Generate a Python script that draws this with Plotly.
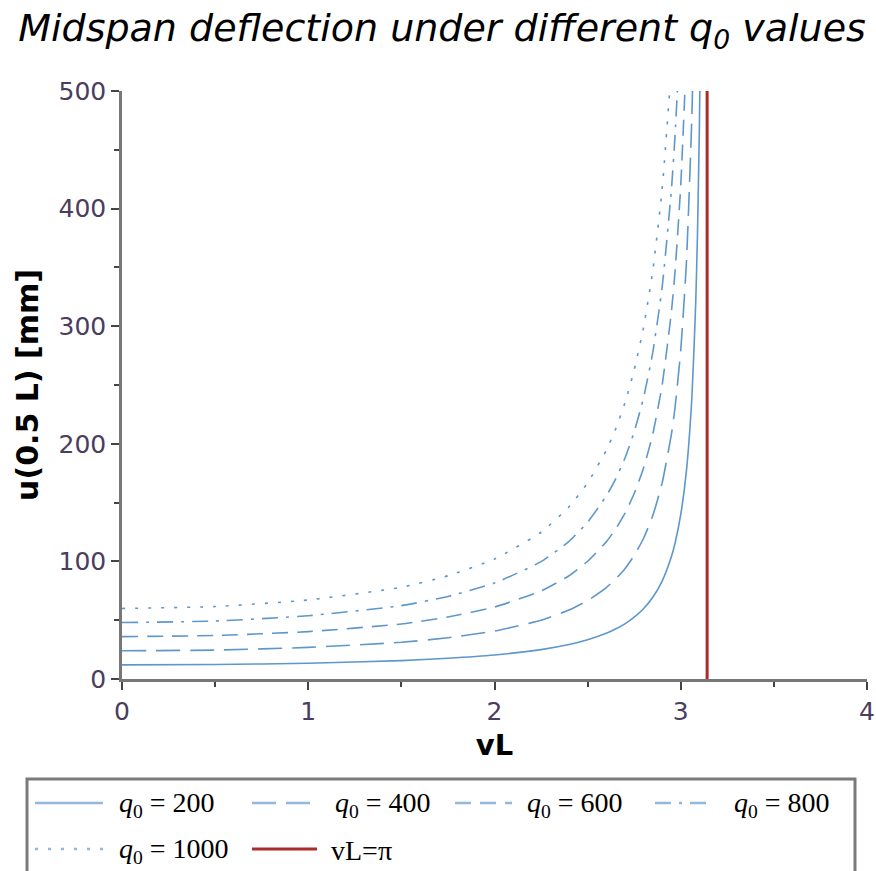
import plotly.graph_objects as go

# vL grid
vL = [0, 0.5, 1.0, 1.5, 1.75, 2.0, 2.25, 2.4, 2.5, 2.6, 2.65, 2.7, 2.75, 2.8,
      2.85, 2.9, 2.95, 2.97, 3.0, 3.03, 3.06, 3.08, 3.09, 3.1, 3.105]

# midspan deflection u(0.5 L) [mm]
u_q200 = [12, 12.3, 13.4, 15.6, 17.6, 20.4, 25.0, 29.3, 33.4, 38.9, 42.5, 46.9,
          52.6, 59.8, 69.5, 83.3, 104.2, 115.9, 139.9, 176.4, 240, 318, 379, 469, 533]
u_q400 = [24, 24.6, 26.9, 31.2, 35.1, 40.8, 49.9, 58.6, 66.7, 77.8, 85.0, 93.8,
          105.1, 119.5, 139.0, 166.6, 208.3, 231.8, 279.8, 352.8, 480, 636]
u_q600 = [36, 37.0, 40.3, 46.8, 52.7, 61.2, 74.9, 87.8, 100.1, 116.6, 127.4, 140.8,
          157.7, 179.3, 208.4, 249.8, 312.5, 347.8, 419.8, 529]
u_q800 = [48, 49.3, 53.8, 62.4, 70.2, 81.6, 99.8, 117.1, 133.4, 155.5, 169.9, 187.7,
          210.2, 239.0, 277.9, 333.1, 416.6, 463.7, 559.7]
u_q1000 = [60, 61.6, 67.2, 78, 87.8, 102, 124.8, 146.4, 166.8, 194.4, 212.4, 234.6,
           262.8, 298.8, 347.4, 416.4, 520.8]

q0_labels = ["200", "400", "600", "800", "1000"]
series = [u_q200, u_q400, u_q600, u_q800, u_q1000]
pi_label = "vL=π"
pi_line_x = [3.14159, 3.14159]
pi_line_y = [0, 500]

blue = "#5e97cc"
legend_blue = "#93b8db"
red = "#ad2a2a"
dashes = ["solid", "24px,10px", "16px,9px", "16px,8px,3px,8px", "3px,10px"]

fig = go.Figure()
for lab, ys, d in zip(q0_labels, series, dashes):
    fig.add_trace(go.Scatter(x=vL[:len(ys)], y=ys, mode="lines",
                             name=f"q0 = {lab}",
                             line=dict(color=blue, width=1.6, dash=d, shape="spline",
                                       smoothing=0.5)))
fig.add_trace(go.Scatter(x=pi_line_x, y=pi_line_y, mode="lines", name=pi_label,
                         line=dict(color=red, width=3)))

# ---- manual legend (pixel layout -> paper coords) ----
L, R, T, B, W, H = 122, 9, 91, 192, 876, 871
PW, PH = W - L - R, H - T - B


def px(x):
    return (x - L) / PW


def py(y):
    return (H - B - y) / PH


shapes = [dict(type="rect", xref="paper", yref="paper",
               x0=px(27), x1=px(855), y0=py(779), y1=py(890),
               line=dict(color="#7a7a7a", width=3), fillcolor="rgba(0,0,0,0)")]
annotations = []
# (line x0, line x1, text x, row y)
slots = [(35, 103, 117, 803), (252, 317, 333, 803), (455, 512, 525, 803),
         (655, 712, 732, 803), (35, 103, 117, 849), (252, 317, 329, 849)]
entries = [(f"<i>q</i><sub>0</sub> = {lab}", legend_blue, d, 2.5)
           for lab, d in zip(q0_labels, dashes)] + [(pi_label, red, "solid", 3)]
for (x0, x1, tx, ry), (txt, col, d, lw) in zip(slots, entries):
    shapes.append(dict(type="line", xref="paper", yref="paper",
                       x0=px(x0), x1=px(x1), y0=py(ry), y1=py(ry),
                       line=dict(color=col, width=lw, dash=d)))
    annotations.append(dict(xref="paper", yref="paper", x=px(tx), y=py(ry + 1),
                            xanchor="left", yanchor="middle", showarrow=False,
                            text=txt,
                            font=dict(family="Liberation Serif", size=28,
                                      color="black")))

tickfont = dict(family="DejaVu Sans", size=25, color="#4a3d5e")
fig.update_layout(
    width=W, height=H,
    margin=dict(l=L, r=R, t=T, b=B, autoexpand=False),
    paper_bgcolor="white", plot_bgcolor="white",
    title=dict(text="<i>Midspan deflection under different q<sub>0</sub> values</i>",
               x=442 / W, xanchor="center", y=1 - 28 / H, yanchor="middle",
               font=dict(family="DejaVu Sans", size=38, color="black")),
    showlegend=False,
    shapes=shapes,
    annotations=annotations,
)
fig.update_xaxes(range=[0, 4], dtick=1, tick0=0, showgrid=False, zeroline=False,
                 automargin=False,
                 showline=True, linecolor="#777777", linewidth=2.5,
                 ticks="outside", ticklen=8, tickwidth=2, tickcolor="#444444",
                 minor=dict(dtick=0.5, ticks="outside", ticklen=5, tickwidth=1.5,
                            tickcolor="#444444"),
                 tickfont=tickfont,
                 title=dict(text="<b>vL</b>", standoff=10,
                            font=dict(family="DejaVu Sans", size=29, color="black")))
fig.update_yaxes(range=[0, 500], dtick=100, tick0=0, showgrid=False, zeroline=False,
                 automargin=False,
                 showline=True, linecolor="#777777", linewidth=2.5,
                 ticks="outside", ticklen=8, tickwidth=2, tickcolor="#444444",
                 minor=dict(dtick=50, ticks="outside", ticklen=5, tickwidth=1.5,
                            tickcolor="#444444"),
                 tickfont=tickfont,
                 title=dict(text="<b>u(0.5 L) [mm]</b>", standoff=12,
                            font=dict(family="DejaVu Sans", size=30, color="black")))

fig.write_html("out.html")
